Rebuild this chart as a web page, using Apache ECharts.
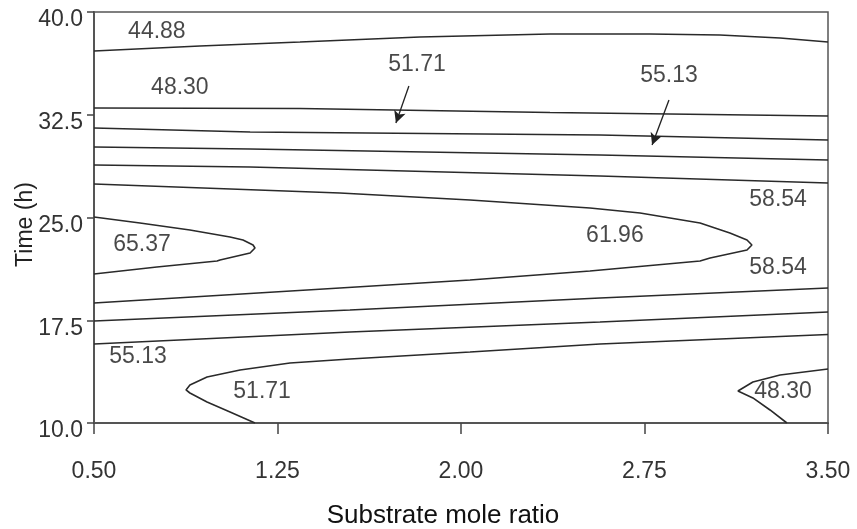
<!DOCTYPE html>
<html>
<head>
<meta charset="utf-8">
<script src="https://cdn.jsdelivr.net/npm/echarts@6/dist/echarts.min.js"></script>
<style>
  html, body { margin: 0; padding: 0; background: #fff; }
  #main { width: 857px; height: 529px; }
</style>
</head>
<body>
<div id="main"></div>
<script>
// axis ranges / ticks
var xTicks = [0.50, 1.25, 2.00, 2.75, 3.50];
var yTicks = [10.0, 17.5, 25.0, 32.5, 40.0];

// contour lines, [substrate mole ratio, time]
var line4488 = [[0.5, 37.15], [0.933, 37.52], [1.342, 37.81], [1.832, 38.18], [2.364, 38.39], [2.772, 38.39], [3.058, 38.32], [3.304, 38.10], [3.5, 37.81]];
var line4830 = [[0.5, 32.99], [1.342, 32.96], [2.364, 32.66], [3.5, 32.41]];
var line5171 = [[0.5, 31.53], [1.138, 31.24], [2.568, 31.02], [3.5, 30.66]];
var line5513 = [[0.5, 30.15], [1.138, 30.00], [2.568, 29.56], [3.5, 29.20]];
var line5854 = [[0.5, 28.83], [1.138, 28.69], [2.568, 28.03], [3.5, 27.52]];
var line6196 = [[0.5, 27.45], [1.505, 26.79], [2.037, 26.28], [2.527, 25.69], [2.732, 25.33], [2.977, 24.60], [3.099, 23.87], [3.169, 23.36], [3.189, 22.99], [3.169, 22.63], [3.018, 22.04], [2.977, 21.82], [2.527, 21.09], [2.037, 20.44], [1.505, 19.85], [0.5, 18.76]];
var line6537 = [[0.5, 25.04], [0.688, 24.60], [0.892, 24.09], [1.056, 23.58], [1.109, 23.36], [1.150, 22.99], [1.158, 22.77], [1.138, 22.41], [1.015, 21.90], [1.003, 21.82], [0.757, 21.39], [0.5, 20.88]];
var line5854b = [[0.5, 17.45], [1.546, 18.25], [2.568, 19.12], [3.5, 19.85]];
var line5513b = [[0.5, 15.77], [1.546, 16.64], [2.568, 17.37], [3.5, 18.10]];
var line5171b = [[1.158, 10.0], [1.056, 10.80], [0.962, 11.53], [0.892, 12.19], [0.876, 12.41], [0.892, 12.77], [0.962, 13.36], [1.097, 13.87], [1.301, 14.38], [1.546, 14.67], [2.037, 15.18], [2.568, 15.77], [3.5, 16.46]];
var line4830b = [[3.5, 13.94], [3.304, 13.50], [3.193, 12.99], [3.132, 12.34], [3.193, 11.83], [3.263, 10.95], [3.332, 10.0]];

var contourLines = [line4488, line4830, line5171, line5513, line5854, line6196, line6537, line5854b, line5513b, line5171b, line4830b];

// contour labels
var labelText = ['44.88', '48.30', '51.71', '55.13', '58.54', '61.96', '58.54', '65.37', '55.13', '51.71', '48.30'];
var labelX = [0.757, 0.851, 1.820, 2.850, 3.296, 2.629, 3.296, 0.696, 0.680, 1.187, 3.316];
var labelY = [38.54, 34.45, 36.13, 35.33, 26.28, 23.65, 21.31, 22.99, 14.82, 12.26, 12.26];

// arrows pointing from label to line
var arrowFrom = [[1.787, 34.60], [2.850, 33.58]];
var arrowTo = [[1.734, 31.90], [2.781, 30.29]];

var font = 'Liberation Sans, Arial, sans-serif';
var chart = echarts.init(document.getElementById('main'));

var series = contourLines.map(function (pts) {
    return {
        type: 'line',
        data: pts,
        symbol: 'none',
        silent: true,
        lineStyle: { color: '#2a2a2a', width: 1.6 }
    };
});

series.push({
    type: 'scatter',
    symbolSize: 1,
    itemStyle: { color: 'rgba(0,0,0,0)' },
    silent: true,
    data: labelText.map(function (t, i) {
        return { name: t, value: [labelX[i], labelY[i]] };
    }),
    label: {
        show: true,
        position: 'inside',
        formatter: '{b}',
        fontFamily: font,
        fontSize: 23,
        color: '#1a1a1a',
        textBorderWidth: 0,
        textBorderColor: 'transparent'
    },
    markLine: {
        silent: true,
        symbol: ['none', 'arrow'],
        symbolSize: [9, 12],
        label: { show: false },
        lineStyle: { color: '#222', width: 1.3, type: 'solid' },
        data: arrowFrom.map(function (p, i) {
            return [{ coord: p }, { coord: arrowTo[i] }];
        })
    }
});

chart.setOption({
    animation: false,
    grid: {
        left: 94, right: 29, top: 12, bottom: 106,
        outerBoundsMode: 'none',
        containLabel: false,
        show: true, borderColor: '#555', borderWidth: 1.5
    },
    xAxis: {
        type: 'value',
        min: xTicks[0],
        max: xTicks[xTicks.length - 1],
        interval: xTicks[1] - xTicks[0],
        name: 'Substrate mole ratio',
        nameLocation: 'middle',
        nameGap: 80,
        nameMoveOverlap: false,
        nameTextStyle: { fontFamily: font, fontSize: 26, color: '#111', padding: [0, 36, 0, 0] },
        axisLine: { lineStyle: { color: '#555', width: 2 } },
        axisTick: { show: true, length: 11, lineStyle: { color: '#444', width: 1.5 } },
        axisLabel: {
            margin: 37,
            fontFamily: font, fontSize: 23, color: '#333',
            formatter: function (v) { return v.toFixed(2); }
        },
        splitLine: { show: false }
    },
    yAxis: {
        type: 'value',
        min: yTicks[0],
        max: yTicks[yTicks.length - 1],
        interval: yTicks[1] - yTicks[0],
        name: 'Time (h)',
        nameLocation: 'middle',
        nameGap: 57,
        nameMoveOverlap: false,
        nameTextStyle: { fontFamily: font, fontSize: 23, color: '#222', padding: [0, 14, 0, 0] },
        axisLine: { lineStyle: { color: '#555', width: 2 } },
        axisTick: { show: true, length: 7, lineStyle: { color: '#444', width: 1.5 } },
        axisLabel: {
            margin: 11,
            fontFamily: font, fontSize: 23, color: '#333',
            verticalAlign: 'top',
            lineHeight: 16,
            formatter: function (v) { return v.toFixed(1); }
        },
        splitLine: { show: false }
    },
    series: series
});
</script>
</body>
</html>
